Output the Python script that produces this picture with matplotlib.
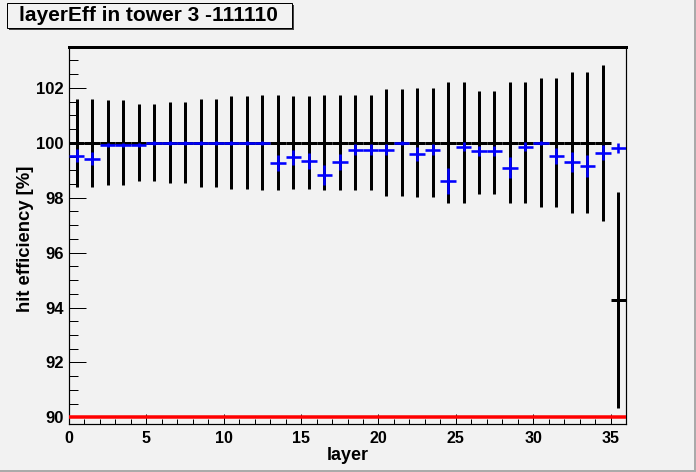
import matplotlib
matplotlib.use("Agg")
import matplotlib.pyplot as plt
from matplotlib.patches import Rectangle
from matplotlib.lines import Line2D
from matplotlib.ticker import MultipleLocator
import numpy as np

title = "layerEff in tower 3 -111110"
xlabel = "layer"
ylabel = "hit efficiency [%]"

layers = np.arange(36)  # bin index

ref_vals = [100.0] * 35 + [94.28]
ref_err = [1.61, 1.61, 1.545, 1.545, 1.40, 1.40, 1.47, 1.47, 1.61, 1.61,
           1.69, 1.69, 1.73, 1.73, 1.69, 1.69, 1.73, 1.73, 1.73, 1.73,
           1.95, 1.95, 1.98, 1.98, 2.20, 2.20, 1.87, 1.87, 2.20, 2.20,
           2.35, 2.35, 2.57, 2.57, 2.84, 3.92]

eff_vals = [99.53, 99.42, 99.92, 99.92, 99.92, 100.0, 100.0, 100.0, 100.0, 100.0,
            100.0, 100.0, 100.0, 99.27, 99.47, 99.35, 98.84, 99.31, 99.75, 99.75,
            99.75, 100.0, 99.60, 99.75, 98.62, 99.86, 99.71, 99.71, 99.09, 99.86,
            100.0, 99.53, 99.31, 99.16, 99.64, 99.82]
eff_err = [0.23, 0.24, 0.09, 0.09, 0.09, 0.07, 0.07, 0.07, 0.07, 0.07,
           0.07, 0.07, 0.07, 0.29, 0.26, 0.29, 0.36, 0.30, 0.21, 0.21,
           0.21, 0.07, 0.26, 0.21, 0.47, 0.17, 0.19, 0.19, 0.38, 0.17,
           0.08, 0.29, 0.36, 0.40, 0.27, 0.18]

threshold = 90.0

W, H = 696, 472
bg = "#f2f2f2"
plt.rcParams['font.family'] = ['Liberation Sans', 'DejaVu Sans']
fig = plt.figure(figsize=(W / 100, H / 100), dpi=100, facecolor=bg)
ax = fig.add_axes([69 / W, 1 - 424 / H, (626 - 69) / W, (424 - 46.7) / H])
ax.set_facecolor(bg)

centers = layers + 0.5
px = 72 / 100.0
ax.errorbar(centers, ref_vals, yerr=ref_err, xerr=0.5, fmt='none',
            ecolor='black', elinewidth=3 * px, capsize=0, zorder=2)
ax.errorbar(centers, eff_vals, yerr=eff_err, xerr=0.5, fmt='none',
            ecolor='#0000ff', elinewidth=2.6 * px, capsize=0, zorder=3)
ax.axhline(threshold, color='#ff0000', lw=3.5 * px, zorder=4)

ax.set_xlim(0, 36)
ax.set_ylim(89.76, 103.5)
ax.xaxis.set_major_locator(MultipleLocator(5))
ax.xaxis.set_minor_locator(MultipleLocator(1))
ax.yaxis.set_major_locator(MultipleLocator(2))
ax.yaxis.set_minor_locator(MultipleLocator(0.5))
ax.tick_params(axis='both', which='both', direction='in', colors='black',
               top=False, right=False, width=1 * px)
ax.tick_params(axis='y', which='major', length=17 * px, pad=4)
ax.tick_params(axis='y', which='minor', length=8.5 * px)
ax.tick_params(axis='x', which='major', length=10.5 * px, pad=5)
ax.tick_params(axis='x', which='minor', length=5 * px)
for lab in ax.get_yticklabels():
    lab.set_fontweight('bold')
    lab.set_fontsize(12)
for lab in ax.get_xticklabels():
    lab.set_fontweight('bold')
    lab.set_fontsize(11.5)
for s in ['left', 'bottom', 'right']:
    ax.spines[s].set_linewidth(1.2 * px)
ax.spines['top'].set_linewidth(3 * px)

ax.set_xlabel(xlabel, fontsize=13, fontweight='bold', labelpad=1)
ax.set_ylabel(ylabel, fontsize=13.3, fontweight='bold', labelpad=1.5)
ax.yaxis.label.set_y(0.49)

# title box with shadow
def fx(x): return x / W
def fy(y): return 1 - y / H
fig.patches.append(Rectangle((fx(9), fy(30)), fx(292 - 7), (28 - 3) / H,
                             transform=fig.transFigure, facecolor='#444444',
                             edgecolor='none', zorder=1))
fig.patches.append(Rectangle((fx(7), fy(28)), fx(292 - 7), (28 - 3) / H,
                             transform=fig.transFigure, facecolor=bg,
                             edgecolor='black', lw=1 * px, zorder=2))
fig.text(fx(19), fy(15.5), title, ha='left', va='center',
         fontsize=15, fontweight='bold', zorder=3)

# canvas bevel
fig.lines.append(Line2D([fx(694.5), fx(694.5)], [0, 1], transform=fig.transFigure,
                        color='#aaaaaa', lw=3 * px))
fig.lines.append(Line2D([0, 1], [fy(470.5), fy(470.5)], transform=fig.transFigure,
                        color='#aaaaaa', lw=3 * px))

fig.savefig("out.png", dpi=100, facecolor=bg)
